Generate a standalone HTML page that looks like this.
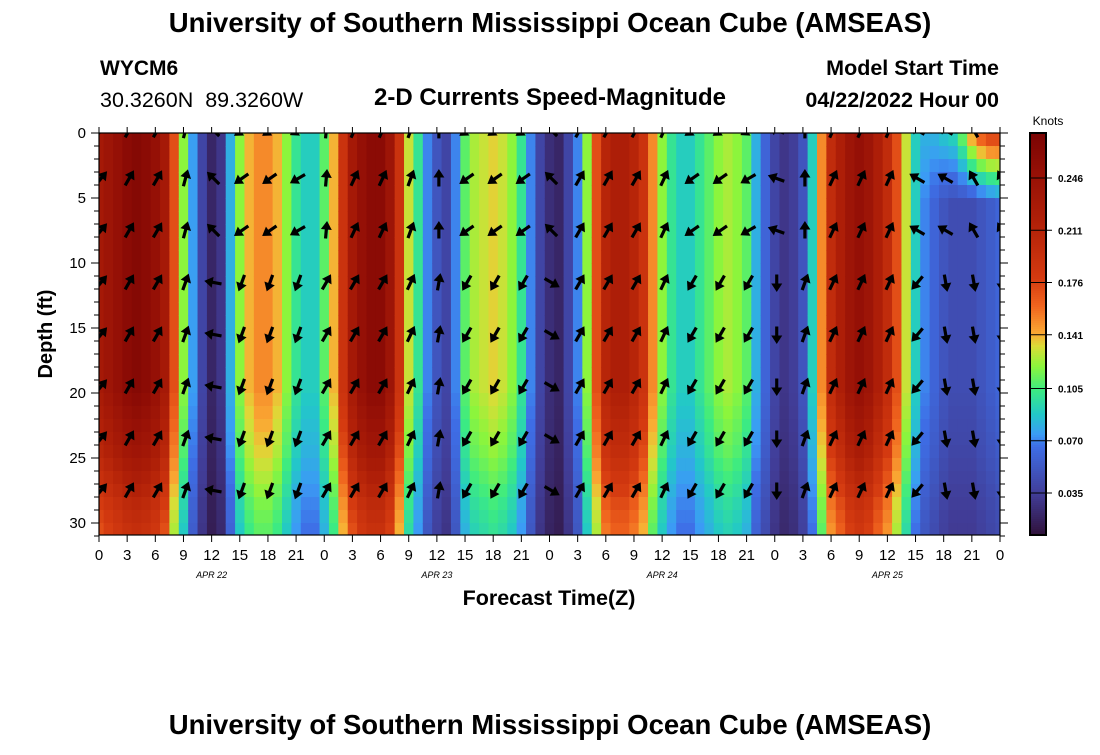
<!DOCTYPE html>
<html><head><meta charset="utf-8"><style>
body{margin:0;background:#fff;width:1100px;height:750px;overflow:hidden;font-family:"Liberation Sans",Arial,sans-serif}
svg text{font-family:"Liberation Sans",Arial,sans-serif}
</style></head><body>
<svg id="c" width="1100" height="750" xmlns="http://www.w3.org/2000/svg">
<defs><clipPath id="pc"><rect x="99" y="133" width="901" height="402"/></clipPath></defs>
<text x="550" y="32" font-size="27.5" font-weight="bold" text-anchor="middle">University of Southern Mississippi Ocean Cube (AMSEAS)</text>
<text x="550" y="734" font-size="27.5" font-weight="bold" text-anchor="middle">University of Southern Mississippi Ocean Cube (AMSEAS)</text>
<text x="100" y="75" font-size="21" font-weight="bold">WYCM6</text>
<text x="100" y="107" font-size="21.5" style="white-space:pre">30.3260N  89.3260W</text>
<text x="550" y="105" font-size="24" font-weight="bold" text-anchor="middle">2-D Currents Speed-Magnitude</text>
<text x="999" y="75" font-size="21.5" font-weight="bold" text-anchor="end">Model Start Time</text>
<text x="999" y="107" font-size="21.5" font-weight="bold" text-anchor="end">04/22/2022 Hour 00</text>
<text x="52" y="334" font-size="20" font-weight="bold" text-anchor="middle" transform="rotate(-90 52 334)">Depth (ft)</text>
<text x="549" y="605" font-size="21.5" font-weight="bold" text-anchor="middle">Forecast Time(Z)</text>
<text x="1048" y="125" font-size="12" text-anchor="middle">Knots</text>
<g id="heat" clip-path="url(#pc)"></g>
<g id="arrows" clip-path="url(#pc)"></g>
<g id="axes"></g>
<g id="cbar"></g>
</svg>
<script>
const hours=[...Array(97).keys()];
const speed=[0.23,0.24,0.25,0.26,0.265,0.26,0.25,0.23,0.17,0.12,0.075,0.04,0.02,0.03,0.08,0.12,0.14,0.15,0.15,0.14,0.12,0.10,0.09,0.09,
0.11,0.14,0.19,0.23,0.25,0.26,0.26,0.24,0.19,0.13,0.10,0.07,0.05,0.04,0.07,0.11,0.125,0.13,0.135,0.13,0.12,0.10,0.07,0.04,
0.025,0.02,0.04,0.07,0.12,0.17,0.21,0.22,0.22,0.21,0.19,0.15,0.12,0.10,0.09,0.09,0.10,0.11,0.12,0.125,0.12,0.11,0.08,0.06,
0.04,0.03,0.035,0.05,0.09,0.15,0.2,0.22,0.24,0.25,0.24,0.22,0.2,0.17,0.13,0.09,0.07,0.06,0.05,0.045,0.045,0.045,0.05,0.055,0.06];
const depthFactor=[1,1,1,1,1,1,1,1,1,1,1,1,1,1,1,1,1,1,1,1,0.98,0.96,0.94,0.92,0.9,0.87,0.84,0.81,0.78,0.76,0.74];
const surfaceHours=[88,89,90,91,92,93,94,95,96];
const surfaceSpeed=[0.08,0.08,0.085,0.09,0.11,0.14,0.16,0.17,0.17];
const arrowHours=[0,3,6,9,12,15,18,21,24,27,30,33,36,39,42,45,48,51,54,57,60,63,66,69,72,75,78,81,84,87,90,93,96];
const dirUpper=[40,30,30,15,315,235,235,240,5,25,25,20,0,235,235,235,315,30,30,30,25,235,235,240,290,0,25,25,25,300,300,330,330];
const dirLower=[40,30,30,20,280,200,200,200,30,30,30,25,10,210,210,210,120,30,30,30,25,210,210,210,180,20,25,25,25,220,170,170,180];
const arrowDepths=[-0.2,3.5,7.5,11.5,15.5,19.5,23.5,27.5];
const yTicks=[0,5,10,15,20,25,30];
const cbTicks=[0.035,0.070,0.105,0.141,0.176,0.211,0.246];
const dayLabels=['APR 22','APR 23','APR 24','APR 25'];

const NS='http://www.w3.org/2000/svg';
const X=h=>99+h*901/96, Y=d=>133+d*13;
const vmin=0.007,vmax=0.276;
const stops=[[0,[48,18,59]],[0.1,[65,60,150]],[0.22,[62,110,230]],[0.25,[59,156,245]],[0.3,[34,200,200]],[0.36,[60,235,130]],[0.42,[140,245,60]],[0.47,[220,220,55]],[0.5,[250,170,52]],[0.57,[240,100,30]],[0.64,[212,58,16]],[0.78,[176,32,8]],[0.9,[150,16,6]],[1,[122,4,3]]];
function col(v){let t=Math.max(0,Math.min(1,(v-vmin)/(vmax-vmin)));for(let i=1;i<stops.length;i++){if(t<=stops[i][0]){const a=stops[i-1],b=stops[i],f=(t-a[0])/(b[0]-a[0]);return 'rgb('+a[1].map((c,k)=>Math.round(c+(b[1][k]-c)*f)).join(',')+')';}}return 'rgb(122,4,3)';}
function mk(tag,at,parent){const e=document.createElementNS(NS,tag);for(const k in at)e.setAttribute(k,at[k]);parent.appendChild(e);return e;}
const heat=document.getElementById('heat');
hours.forEach((h,i)=>{for(let d=0;d<31;d++){let v=speed[i]*depthFactor[d];const si=surfaceHours.indexOf(h);if(si>=0&&d<5){v=v+(surfaceSpeed[si]-v)*(1-d/5);}
const r=mk('rect',{x:X(h-0.5),y:Y(d),width:901/96+0.6,height:13.6,fill:col(v)},heat);

}});
const ar=document.getElementById('arrows');
arrowHours.forEach((h,i)=>{arrowDepths.forEach((d,j)=>{const ang=d<10?dirUpper[i]:dirLower[i];
const g=mk('g',{transform:`translate(${X(h)+2},${Y(d)}) rotate(${ang})`},ar);


mk('line',{x1:0,y1:8,x2:0,y2:-3,stroke:'#000','stroke-width':3.2},g);
mk('polygon',{points:'0,-9.5 -5.5,-1 5.5,-1',fill:'#000'},g);});});
const ax=document.getElementById('axes');
mk('rect',{x:99,y:133,width:901,height:402,fill:'none',stroke:'#000','stroke-width':1.2},ax);
for(let d=0;d<=31;d++){const y=Y(d),L=d%5==0?8:5;mk('line',{x1:99-L,y1:y,x2:99,y2:y,stroke:'#000'},ax);mk('line',{x1:1000,y1:y,x2:1000+L,y2:y,stroke:'#000'},ax);}
yTicks.forEach(t=>{const e=mk('text',{x:86,y:Y(t)+5,'font-size':15,'text-anchor':'end'},ax);e.textContent=t;

});
for(let h=0;h<=96;h+=3){const x=X(h);mk('line',{x1:x,y1:127,x2:x,y2:133,stroke:'#000'},ax);mk('line',{x1:x,y1:535,x2:x,y2:542,stroke:'#000'},ax);
const e=mk('text',{x:x,y:560,'font-size':15,'text-anchor':'middle'},ax);e.textContent=h%24;

}
dayLabels.forEach((s,i)=>{const e=mk('text',{x:X(12+24*i),y:578,'font-size':9,'font-style':'italic','text-anchor':'middle','font-family':'Liberation Mono'},ax);e.textContent=s;

});
const cb=document.getElementById('cbar');
const CY=v=>493-(v-0.035)*315/0.211;
for(let y=133;y<535;y+=2){const v=0.035+(493-y-1)*0.211/315;mk('rect',{x:1030,y:y,width:16,height:2.5,fill:col(v)},cb);}
mk('rect',{x:1030,y:133,width:16,height:402,fill:'none',stroke:'#000','stroke-width':2},cb);
cbTicks.forEach(t=>{const y=CY(t);mk('line',{x1:1030,y1:y,x2:1052,y2:y,stroke:'#000'},cb);
const e=mk('text',{x:1058,y:y+4,'font-size':10,'font-weight':'bold'},cb);e.textContent=t.toFixed(3);

});
</script>
</body></html>
